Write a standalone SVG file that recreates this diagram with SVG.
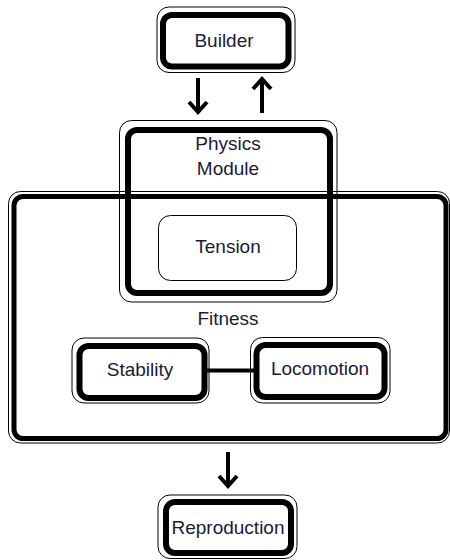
<svg xmlns="http://www.w3.org/2000/svg" width="450" height="560" viewBox="0 0 450 560">
<defs>
<style>
.o{fill:none;stroke:#000;stroke-width:1}
.k{fill:none;stroke:#000;stroke-width:6}
.t{fill:none;stroke:#000;stroke-width:1}
text{font-family:"Liberation Sans",Arial,sans-serif;font-size:19px;fill:#1a1a3a;text-anchor:middle}
.a{fill:none;stroke:#000;stroke-width:4}
</style>
</defs>
<rect width="450" height="560" fill="#fff"/>
<g id="fitness">
<rect class="o" x="8.5" y="191.5" width="441" height="251.5" rx="12"/>
<rect class="k" x="14" y="196.5" width="432" height="242" rx="9" style="stroke-width:5"/>
<text x="228" y="325">Fitness</text>
</g>
<g id="physics">
<rect class="o" x="119.5" y="120.5" width="217.5" height="181.5" rx="12"/>
<rect class="k" x="128" y="130" width="202" height="163" rx="9"/>
<text x="228" y="150">Physics</text>
<text x="228" y="175">Module</text>
</g>
<g id="tension">
<rect class="t" x="158.5" y="215.5" width="138" height="65" rx="12"/>
<text x="228" y="253">Tension</text>
</g>
<g id="builder">
<rect class="o" x="157" y="7" width="138" height="65.5" rx="12"/>
<rect class="k" x="163" y="15" width="125.5" height="51.5" rx="9"/>
<text x="224" y="47">Builder</text>
</g>
<g id="stability">
<rect class="o" x="72" y="338" width="137" height="65" rx="12"/>
<rect class="k" x="79.5" y="346" width="125" height="52" rx="9"/>
<text x="140" y="376">Stability</text>
</g>
<g id="locomotion">
<rect class="o" x="250.5" y="337.5" width="139.5" height="65.5" rx="12"/>
<rect class="k" x="256.5" y="345" width="128" height="52" rx="9"/>
<text x="320" y="375">Locomotion</text>
</g>
<g id="reproduction">
<rect class="o" x="158" y="495" width="139" height="63.5" rx="12"/>
<rect class="k" x="166" y="502" width="125" height="51" rx="9"/>
<text x="228" y="534">Reproduction</text>
</g>
<g id="connectors">
<line x1="207" y1="370.5" x2="254" y2="370.5" stroke="#000" stroke-width="4"/>
<line class="a" x1="198" y1="78" x2="198" y2="111"/>
<polyline class="a" points="189,102 198,112 207,102"/>
<line class="a" x1="262" y1="80" x2="262" y2="113"/>
<polyline class="a" points="253,89 262,79 271,89"/>
<line class="a" x1="228" y1="452" x2="228" y2="485"/>
<polyline class="a" points="219,476 228,486 237,476"/>
</g>
</svg>
